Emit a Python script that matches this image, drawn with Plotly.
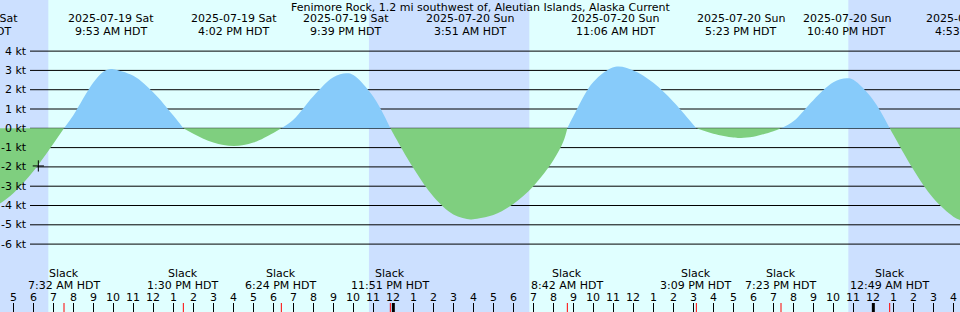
import plotly.graph_objects as go

# ---------------- data (hours since 2025-07-19 00:00 HDT) ----------------
TITLE = "Fenimore Rock, 1.2 mi southwest of, Aleutian Islands, Alaska Current"

curve_hours = [4.333, 5, 6, 7, 7.533, 8, 9, 9.5, 9.883, 10, 11, 12, 13, 13.5,
               14, 15, 16.033, 17, 18, 18.4, 19, 20, 21, 21.65, 22, 23, 23.85,
               24, 25, 26, 27, 27.85, 28, 29, 30, 31, 32, 32.5, 32.7,
               33, 34, 35.1, 36, 37, 38, 39, 39.15, 40, 41, 41.383, 42, 43, 43.383,
               44, 45, 46, 46.667, 47, 48, 48.817, 49, 50, 51, 52, 52.333]
curve_knots = [-3.90, -3.36, -2.22, -0.80, 0, 0.68, 2.37, 2.93, 3.07, 3.06, 2.72, 1.86, 0.66, 0,
               -0.28, -0.74, -0.92, -0.74, -0.24, 0, 0.44, 1.66, 2.64, 2.85, 2.76, 1.63, 0,
               -0.28, -2.06, -3.53, -4.46, -4.72, -4.71, -4.49, -3.92, -3.00, -1.66, -0.69, 0,
               0.62, 2.40, 3.19, 3.00, 2.36, 1.38, 0.19, 0, -0.28, -0.48, -0.50, -0.44, -0.15, 0,
               0.36, 1.46, 2.38, 2.59, 2.51, 1.46, 0, -0.34, -2.14, -3.63, -4.58, -4.75]

extreme_hours = [3.083, 9.883, 16.033, 21.65, 27.85, 35.1, 41.383, 46.667, 52.883]
extreme_dates = ["2025-07-19 Sat", "2025-07-19 Sat", "2025-07-19 Sat", "2025-07-19 Sat",
                 "2025-07-20 Sun", "2025-07-20 Sun", "2025-07-20 Sun", "2025-07-20 Sun",
                 "2025-07-21 Mon"]
extreme_times = ["3:05 AM HDT", "9:53 AM HDT", "4:02 PM HDT", "9:39 PM HDT",
                 "3:51 AM HDT", "11:06 AM HDT", "5:23 PM HDT", "10:40 PM HDT",
                 "4:53 AM HDT"]

slack_hours = [7.533, 13.5, 18.4, 23.85, 32.7, 39.15, 43.383, 48.817]
slack_times = ["7:32 AM HDT", "1:30 PM HDT", "6:24 PM HDT", "11:51 PM HDT",
               "8:42 AM HDT", "3:09 PM HDT", "7:23 PM HDT", "12:49 AM HDT"]

night_starts = [4.333, 22.78, 46.75]
night_ends = [6.75, 30.8, 52.333]

hour_ticks = list(range(5, 53))
hour_labels = ["5", "6", "7", "8", "9", "10", "11", "12", "1", "2", "3", "4",
               "5", "6", "7", "8", "9", "10", "11", "12", "1", "2", "3", "4",
               "5", "6", "7", "8", "9", "10", "11", "12", "1", "2", "3", "4",
               "5", "6", "7", "8", "9", "10", "11", "12", "1", "2", "3", "4"]
midnight_hours = [24, 48]

speed_ticks = [4, 3, 2, 1, 0, -1, -2, -3, -4, -5, -6]
speed_labels = ["4 kt", "3 kt", "2 kt", "1 kt", "0 kt", "-1 kt", "-2 kt", "-3 kt",
                "-4 kt", "-5 kt", "-6 kt"]

now_hour = [6.25]
now_knots = [-1.95]

# ---------------- styles ----------------
XMIN, XMAX = 4.333, 52.333
YMIN, YMAX = -9.518, 6.648
W, H = 960, 312
DAY = "#e0ffff"
NIGHT = "#cce0ff"
FLOOD = "#87cbfa"
EBB = "#7fcf7f"
FONT = dict(family="DejaVu Sans", size=11, color="black")


def xp(t):
    return (t - XMIN) / (XMAX - XMIN)


def yp(px):
    return 1 - px / H


fig = go.Figure()

# split the curve at slack (zero) points into flood / ebb pieces
segments = []
start = 0
for i, v in enumerate(curve_knots):
    if v == 0 and i > start:
        segments.append((start, i))
        start = i
segments.append((start, len(curve_knots) - 1))

for s, e in segments:
    xs = curve_hours[s:e + 1]
    ys = curve_knots[s:e + 1]
    peak = max(ys, key=abs)
    fig.add_trace(go.Scatter(
        x=xs, y=ys, mode="lines", fill="tozeroy",
        fillcolor=FLOOD if peak > 0 else EBB,
        line=dict(width=0, shape="spline", smoothing=1),
        hoverinfo="skip", showlegend=False))

fig.add_trace(go.Scatter(
    x=now_hour, y=now_knots, mode="markers",
    marker=dict(symbol="cross-thin", size=8, line=dict(width=1, color="black")),
    hoverinfo="skip", showlegend=False))

shapes = []
for a, b in zip(night_starts, night_ends):
    shapes.append(dict(type="rect", xref="x", yref="paper", x0=a, x1=b, y0=0, y1=1,
                       fillcolor=NIGHT, line=dict(width=0), layer="below"))
for v in speed_ticks:
    shapes.append(dict(type="line", xref="paper", yref="y", x0=30 / W, x1=1, y0=v, y1=v,
                       line=dict(color="black", width=1), layer="below"))
for t in slack_hours:
    shapes.append(dict(type="line", xref="x", yref="paper", x0=t, x1=t, y0=0, y1=9 / H,
                       line=dict(color="red", width=1)))
for t in midnight_hours:
    shapes.append(dict(type="line", xref="x", yref="paper", x0=t, x1=t, y0=0, y1=9 / H,
                       line=dict(color="black", width=3)))

ann = []
ann.append(dict(text=TITLE, xref="paper", yref="paper", x=0.5, y=yp(7),
                xanchor="center", yanchor="middle", showarrow=False, font=FONT))
for t, d, tm in zip(extreme_hours, extreme_dates, extreme_times):
    ann.append(dict(text=d, xref="paper", yref="paper", x=xp(t), y=yp(18.5),
                    xanchor="center", yanchor="middle", showarrow=False, font=FONT))
    ann.append(dict(text=tm, xref="paper", yref="paper", x=xp(t), y=yp(31.5),
                    xanchor="center", yanchor="middle", showarrow=False, font=FONT))
for t, tm in zip(slack_hours, slack_times):
    ann.append(dict(text="Slack", xref="paper", yref="paper", x=xp(t), y=yp(273.5),
                    xanchor="center", yanchor="middle", showarrow=False, font=FONT))
    ann.append(dict(text=tm, xref="paper", yref="paper", x=xp(t), y=yp(285),
                    xanchor="center", yanchor="middle", showarrow=False, font=FONT))
for t, lab in zip(hour_ticks, hour_labels):
    ann.append(dict(text=lab, xref="paper", yref="paper", x=xp(t), y=yp(297),
                    xanchor="center", yanchor="middle", showarrow=False, font=FONT))
for v, lab in zip(speed_ticks, speed_labels):
    ann.append(dict(text=lab, xref="paper", yref="y", x=28.5 / W, y=v,
                    xanchor="right", yanchor="middle", showarrow=False, font=FONT))

fig.update_layout(
    width=W, height=H, margin=dict(l=0, r=0, t=0, b=0),
    plot_bgcolor=DAY, paper_bgcolor=DAY, font=FONT,
    xaxis=dict(range=[XMIN, XMAX], showgrid=False, zeroline=False, showline=False,
               ticks="inside", ticklen=9, tickwidth=1, tickcolor="black",
               tickvals=hour_ticks, showticklabels=False, fixedrange=True),
    yaxis=dict(range=[YMIN, YMAX], showgrid=False, zeroline=False, showline=False,
               showticklabels=False, ticks="", fixedrange=True),
    shapes=shapes, annotations=ann, hovermode=False, showlegend=False,
)

fig.write_html("out.html", config=dict(displayModeBar=False))
